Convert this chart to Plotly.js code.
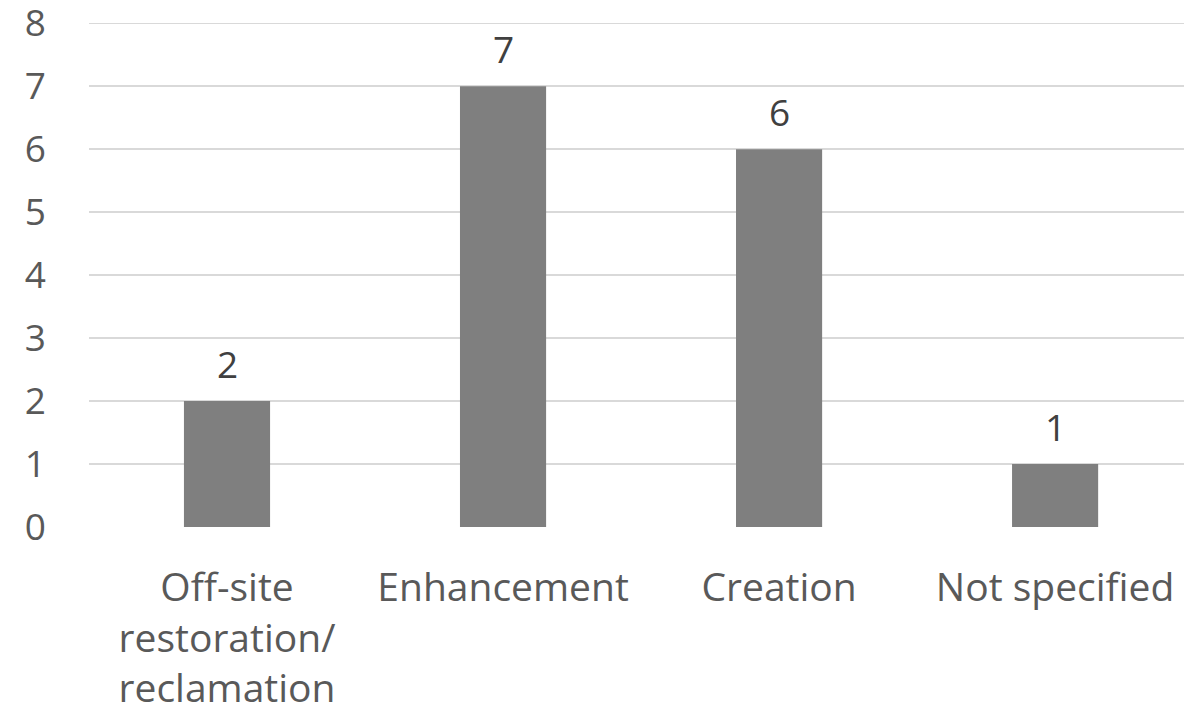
<!DOCTYPE html>
<html>
<head>
<meta charset="utf-8">
<script src="https://cdn.plot.ly/plotly-3.0.1.min.js"></script>
<style>html,body{margin:0;padding:0;background:#fff;}#chart{width:1184px;height:714px;}</style>
</head>
<body>
<div id="chart"></div>
<script>
const categories = ["Off-site<br>restoration/<br>reclamation", "Enhancement", "Creation", "Not specified"];
const counts = [2, 7, 6, 1];
const yTicks = [0, 1, 2, 3, 4, 5, 6, 7, 8];

const FONT = "Open Sans, sans-serif";

const trace = {
  type: "bar",
  x: categories,
  y: counts,
  width: 0.312,
  marker: {color: "#7f7f7f"},
  hoverinfo: "skip",
  cliponaxis: false
};

const annotations = categories.map((c, i) => ({
  x: c, y: counts[i], xref: "x", yref: "y",
  text: String(counts[i]), showarrow: false,
  yanchor: "middle", yshift: 38,
  font: {family: FONT, size: 37, color: "#404040"}
}));

const layout = {
  width: 1184, height: 714,
  margin: {l: 89, r: 0, t: 22, b: 187},
  paper_bgcolor: "#ffffff", plot_bgcolor: "#ffffff",
  showlegend: false,
  xaxis: {
    type: "category",
    range: [-0.5, 3.467],
    showgrid: false, zeroline: false, showline: false, ticks: "",
    tickfont: {family: FONT, size: 39, color: "#595959"},
    ticklabelstandoff: 34
  },
  yaxis: {
    range: [0, 8.02],
    tickvals: yTicks,
    showgrid: true, gridcolor: "#d9d9d9", gridwidth: 1.5,
    zeroline: false, showline: false, ticks: "",
    tickfont: {family: FONT, size: 37, color: "#595959"},
    ticklabelstandoff: 42,
    ticklabeloverflow: "allow",
    automargin: false
  },
  annotations: annotations
};

Plotly.newPlot("chart", [trace], layout, {displayModeBar: false, staticPlot: true});
</script>
</body>
</html>
